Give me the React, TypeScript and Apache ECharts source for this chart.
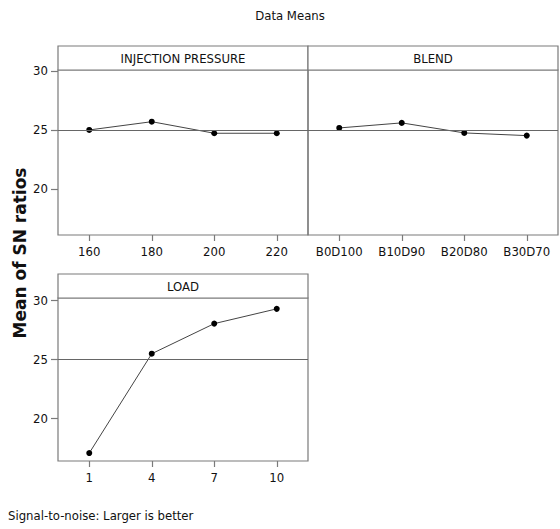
import React, { useEffect, useRef } from "react";
import * as echarts from "echarts";

const pressureCats = ["160", "180", "200", "220"];
const pressureVals = [25.0, 25.7, 24.72, 24.72];
const blendCats = ["B0D100", "B10D90", "B20D80", "B30D70"];
const blendVals = [25.17, 25.6, 24.75, 24.52];
const loadCats = ["1", "4", "7", "10"];
const loadVals = [17.03, 25.45, 28.0, 29.25];
const yTicks = [20, 25, 30];
const grandMean = 24.98;
const panelTitles = ["INJECTION PRESSURE", "BLEND", "LOAD"];

const FONT = "'DejaVu Sans Condensed', 'Liberation Sans Narrow', sans-serif";
const FRAME = "#7a7a7a";

export default function App() {
  const ref = useRef<HTMLDivElement>(null);
  useEffect(() => {
    if (!ref.current) return;
    const chart = echarts.init(ref.current, null, { renderer: "svg" });
    const grids = [
      { left: 58, top: 70, width: 250, height: 165 },
      { left: 308, top: 70, width: 250, height: 165 },
      { left: 58, top: 298, width: 250, height: 163 },
    ];
    const yRanges = [
      [16.1, 30.08],
      [16.1, 30.08],
      [16.36, 30.17],
    ];
    const cats = [pressureCats, blendCats, loadCats];
    const vals = [pressureVals, blendVals, loadVals];
    const strips = [
      { x: 58, y: 46, w: 250, h: 24 },
      { x: 308, y: 46, w: 250, h: 24 },
      { x: 58, y: 274, w: 250, h: 24 },
    ];
    const graphics: any[] = [];
    strips.forEach((s, i) => {
      graphics.push({
        type: "rect",
        shape: { x: s.x, y: s.y, width: s.w, height: s.h },
        style: { fill: "#fff", stroke: FRAME, lineWidth: 1.2 },
        z: 10,
      });
      graphics.push({
        type: "text",
        x: s.x + s.w / 2,
        y: s.y + s.h / 2,
        style: {
          text: panelTitles[i],
          font: `13px ${FONT}`,
          fill: "#111",
          align: "center",
          verticalAlign: "middle",
        },
        z: 11,
      });
    });
    graphics.push({
      type: "text",
      x: 290,
      y: 15,
      style: { text: "Data Means", font: `13px ${FONT}`, fill: "#111", align: "center", verticalAlign: "middle" },
    });
    graphics.push({
      type: "text",
      x: 8,
      y: 515,
      style: { text: "Signal-to-noise: Larger is better", font: `13px ${FONT}`, fill: "#111", align: "left", verticalAlign: "middle" },
    });
    graphics.push({
      type: "text",
      x: 20,
      y: 253,
      rotation: Math.PI / 2,
      style: {
        text: "Mean of SN ratios",
        font: `bold 17px 'DejaVu Sans', Verdana, sans-serif`,
        fill: "#111",
        align: "center",
        verticalAlign: "middle",
      },
    });

    chart.setOption({
      animation: false,
      grid: grids.map((g) => ({ ...g, show: true, borderColor: FRAME, borderWidth: 1.2, backgroundColor: "transparent" })),
      xAxis: cats.map((c, i) => ({
        type: "category",
        gridIndex: i,
        data: c,
        boundaryGap: true,
        axisLine: { show: false },
        axisTick: { show: true, alignWithLabel: true, interval: 0, length: 6, lineStyle: { color: FRAME, width: 1.2 } },
        axisLabel: { color: "#111", fontFamily: FONT, fontSize: 13, margin: 10, interval: 0 },
        splitLine: { show: false },
      })),
      yAxis: yRanges.map((r, i) => ({
        type: "value",
        gridIndex: i,
        min: r[0],
        max: r[1],
        show: i !== 1,
        axisLine: { show: false },
        axisTick: { show: true, length: 7, customValues: yTicks, lineStyle: { color: FRAME, width: 1.2 } },
        axisLabel: { color: "#111", fontFamily: FONT, fontSize: 13, margin: 10, customValues: yTicks },
        splitLine: { show: false },
      })),
      graphic: graphics,
      series: vals.map((v, i) => ({
        type: "line",
        xAxisIndex: i,
        yAxisIndex: i,
        data: v,
        symbol: "circle",
        symbolSize: 6,
        itemStyle: { color: "#000" },
        lineStyle: { color: "#444", width: 1 },
        markLine: {
          silent: true,
          symbol: "none",
          label: { show: false },
          lineStyle: { color: "#666", width: 1.2, type: "solid" },
          data: [{ yAxis: grandMean }],
        },
      })),
    });
    return () => chart.dispose();
  }, []);
  return (
    <div
      ref={ref}
      style={{ position: "absolute", left: 0, top: 0, width: 560, height: 529 }}
    />
  );
}
